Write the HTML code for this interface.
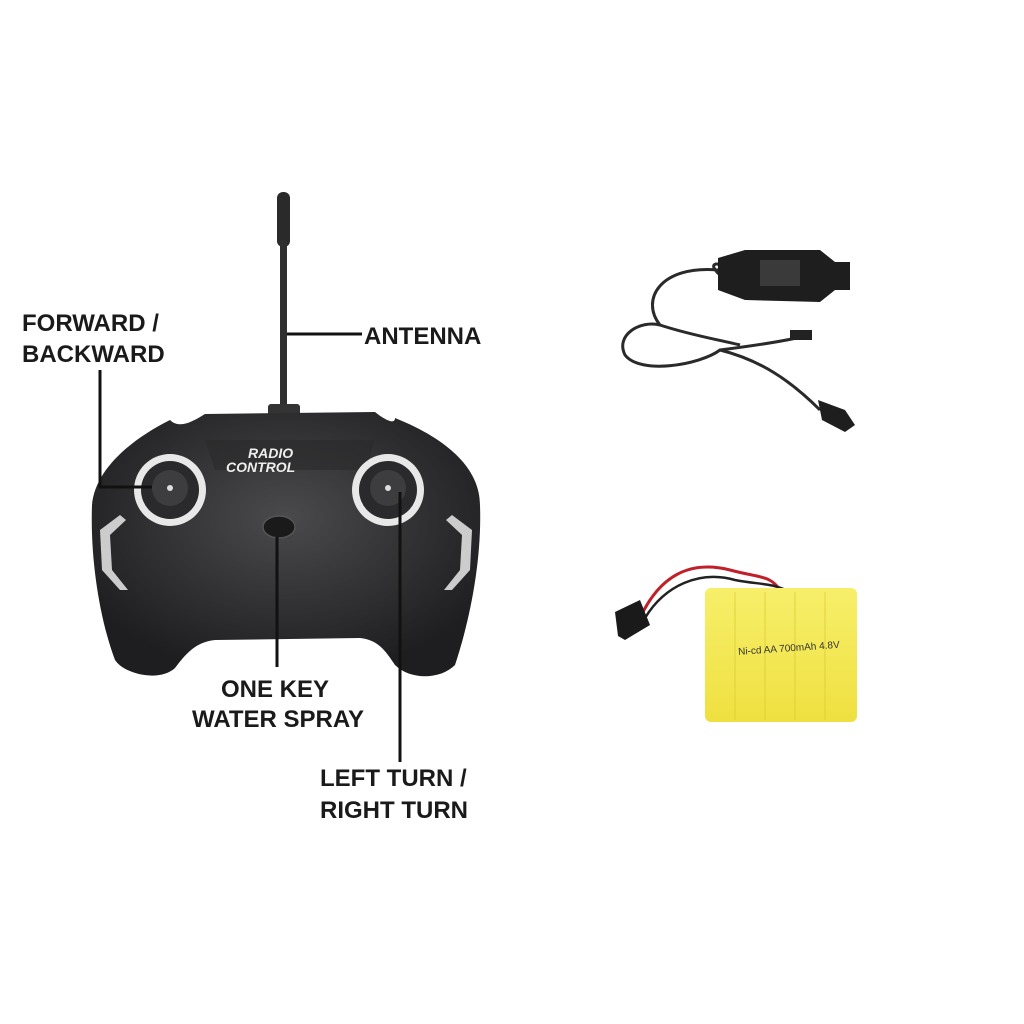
<!DOCTYPE html>
<html><head><style>
html,body{margin:0;padding:0;background:#fff;}
svg{display:block;}
text{font-family:"Liberation Sans",Arial,sans-serif;font-weight:bold;fill:#1a1a1a;}
</style></head><body>
<svg width="1024" height="1024" viewBox="0 0 1024 1024" xmlns="http://www.w3.org/2000/svg">
<defs>
<radialGradient id="bd" cx="50%" cy="40%" r="60%"><stop offset="0" stop-color="#4a4a4c"/><stop offset="1" stop-color="#1e1e20"/></radialGradient>
<linearGradient id="yl" x1="0" y1="0" x2="0" y2="1"><stop offset="0" stop-color="#f7ef6a"/><stop offset="1" stop-color="#efe040"/></linearGradient>
</defs>
<rect x="277" y="192" width="13" height="55" rx="6" fill="#2a2a2a"/>
<rect x="280" y="240" width="7" height="180" fill="#2f2f2f"/>
<rect x="268" y="404" width="32" height="14" rx="3" fill="#333"/>
<path d="M92,505 C95,470 130,440 170,420 C180,430 195,420 205,414 L375,412 C385,420 395,425 395,418 C450,440 480,470 480,505 C482,560 470,620 455,665 C440,680 410,680 395,665 C385,650 378,640 360,638 L215,640 C195,642 185,655 175,668 C160,682 125,675 115,660 C100,620 90,560 92,505 Z" fill="url(#bd)"/>
<path d="M120,515 L100,530 L102,570 L120,590 L128,590 L112,570 L110,535 L126,520 Z" fill="#ccc"/>
<path d="M452,515 L472,530 L470,570 L452,590 L444,590 L460,570 L462,535 L446,520 Z" fill="#ccc"/>
<path d="M205,440 L375,440 L365,470 L215,470 Z" fill="#2a2a2c" opacity="0.6"/>
<text x="248" y="458" font-size="14" font-style="italic" style="fill:#eee">RADIO</text>
<text x="226" y="472" font-size="14" font-style="italic" style="fill:#eee">CONTROL</text>
<circle cx="170" cy="490" r="36" fill="#e8e8e8"/>
<circle cx="170" cy="490" r="29" fill="#2a2a2c"/>
<circle cx="170" cy="488" r="18" fill="#3d3d3f"/>
<circle cx="170" cy="488" r="3" fill="#ddd"/>
<circle cx="388" cy="490" r="36" fill="#e8e8e8"/>
<circle cx="388" cy="490" r="29" fill="#2a2a2c"/>
<circle cx="388" cy="488" r="18" fill="#3d3d3f"/>
<circle cx="388" cy="488" r="3" fill="#ddd"/>
<ellipse cx="279" cy="527" rx="16" ry="11" fill="#1a1a1a" stroke="#555" stroke-width="1.5"/>
<g stroke="#111" stroke-width="3" fill="none">
<path d="M287,334 L362,334"/>
<path d="M100,370 L100,487 L152,487"/>
<path d="M277,537 L277,667"/>
<path d="M400,492 L400,762"/>
</g>
<text x="22" y="331" font-size="24">FORWARD /</text>
<text x="22" y="362" font-size="24">BACKWARD</text>
<text x="364" y="344" font-size="24">ANTENNA</text>
<text x="275" y="697" font-size="24" text-anchor="middle">ONE KEY</text>
<text x="278" y="727" font-size="24" text-anchor="middle">WATER SPRAY</text>
<text x="320" y="786" font-size="24">LEFT TURN /</text>
<text x="320" y="818" font-size="24">RIGHT TURN</text>
<path d="M718,270 C660,265 640,300 660,325 C640,320 615,335 625,355 C640,375 700,365 720,350 C760,345 790,340 810,335 M720,350 C760,360 790,380 820,410 M660,325 C690,335 720,340 740,345 M730,272 C720,260 705,262 720,275" stroke="#2a2a2a" stroke-width="3" fill="none"/>
<path d="M718,258 L745,250 L820,250 L835,262 L850,262 L850,290 L835,290 L820,302 L745,300 L718,290 Z" fill="#1e1e1e"/>
<rect x="760" y="260" width="40" height="26" fill="#3a3a3a"/>
<rect x="790" y="330" width="22" height="10" fill="#222"/>
<path d="M818,400 L845,410 L855,425 L845,432 L822,420 Z" fill="#1e1e1e"/>
<path d="M640,618 C660,575 690,560 730,570 C760,578 770,575 780,590" stroke="#c0202a" stroke-width="3" fill="none"/>
<path d="M645,618 C665,585 700,570 735,580 C760,585 770,582 790,592" stroke="#222" stroke-width="2.5" fill="none"/>
<path d="M615,612 L640,600 L650,625 L625,640 L618,636 Z" fill="#1a1a1a"/>
<rect x="705" y="588" width="152" height="134" rx="6" fill="url(#yl)"/>
<g stroke="#d8c830" stroke-width="1" opacity="0.7"><line x1="735" y1="592" x2="735" y2="720"/><line x1="765" y1="592" x2="765" y2="720"/><line x1="795" y1="592" x2="795" y2="720"/><line x1="825" y1="592" x2="825" y2="720"/></g>
<text x="738" y="652" font-size="10" style="font-weight:normal;fill:#333" transform="rotate(-4 780 648)">Ni-cd AA 700mAh 4.8V</text>
</svg>
</body></html>
